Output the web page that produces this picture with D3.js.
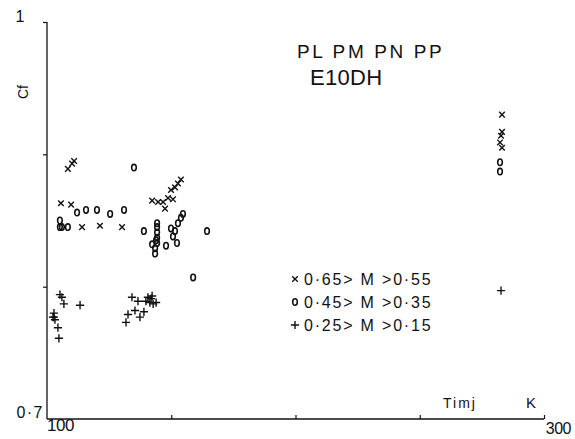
<!DOCTYPE html>
<html>
<head>
<meta charset="utf-8">
<script src="https://cdn.jsdelivr.net/npm/d3@7"></script>
<style>
  html, body { margin: 0; padding: 0; background: #fff; }
  svg { display: block; }
  text { font-family: "Liberation Sans", "DejaVu Sans", sans-serif; fill: #111; }
</style>
</head>
<body>
<svg id="chart" width="575" height="439"></svg>
<script>
// Injection temperature (K) vs. Cf, grouped by Mach number band
const xTicks = [150, 200, 250, 300];
const yTicks = [0.9, 0.8];

// 0.65 > M > 0.55
const highM = [
  [108.4, 0.889], [110.1, 0.893], [110.9, 0.895],
  [105.6, 0.863], [109.7, 0.862],
  [114.1, 0.845], [121.3, 0.846], [130.2, 0.845],
  [142.3, 0.865], [144.7, 0.864], [146.7, 0.864], [147.5, 0.859],
  [148.7, 0.867], [149.9, 0.873], [150.7, 0.866], [151.5, 0.875],
  [152.7, 0.878], [153.9, 0.881],
  [283.1, 0.930], [283.1, 0.917], [282.7, 0.914], [282.3, 0.909], [283.1, 0.905]
];

// 0.45 > M > 0.35
const midM = [
  [135.0, 0.890],
  [112.1, 0.856], [115.7, 0.858], [120.1, 0.858], [125.4, 0.855], [131.0, 0.858],
  [105.2, 0.850], [105.2, 0.845], [106.0, 0.845], [108.4, 0.845],
  [139.0, 0.842],
  [144.3, 0.848], [144.3, 0.845], [144.3, 0.841], [144.3, 0.837], [144.3, 0.833],
  [142.3, 0.832], [143.5, 0.829], [143.9, 0.835], [143.5, 0.825],
  [147.9, 0.831], [152.3, 0.833],
  [149.9, 0.844], [150.7, 0.838], [151.5, 0.842], [152.7, 0.848], [153.9, 0.852], [154.7, 0.855],
  [164.4, 0.842], [158.8, 0.807],
  [282.3, 0.894], [282.3, 0.887]
];

// 0.25 > M > 0.15
const lowM = [
  [105.2, 0.794], [106.0, 0.792], [106.8, 0.787], [113.3, 0.786],
  [102.8, 0.780], [102.8, 0.777], [103.2, 0.775], [102.4, 0.777],
  [104.4, 0.769], [104.8, 0.761],
  [134.2, 0.792], [136.6, 0.789], [139.8, 0.789], [140.6, 0.792], [142.3, 0.793],
  [141.9, 0.791], [141.4, 0.788], [142.7, 0.787], [143.9, 0.788],
  [132.6, 0.779], [131.8, 0.773], [135.4, 0.782], [139.0, 0.781], [137.4, 0.777],
  [282.7, 0.797]
];

const legendItems = [
  { marker: "x", label: "0·65> M >0·55" },
  { marker: "o", label: "0·45> M >0·35" },
  { marker: "+", label: "0·25> M >0·15" }
];

const svg = d3.select("#chart");
const x = d3.scaleLinear().domain([100, 300]).range([47, 544]);
const y = d3.scaleLinear().domain([0.7, 1]).range([419, 22]);

const ink = "#111";

// Axes: short tick marks on the plotter frame
const xAxis = d3.axisBottom(x).tickValues(xTicks).tickSize(-4).tickFormat("");
const gx = svg.append("g").attr("transform", `translate(0,${y(0.7)})`).call(xAxis);
gx.select(".domain").attr("d", `M${x(100)},0H${x(300)}`).attr("stroke", ink).attr("stroke-width", 1.3);
gx.selectAll(".tick line").attr("stroke", ink).attr("stroke-width", 1.2);

const yAxis = d3.axisLeft(y).tickValues(yTicks.concat([1])).tickSize(4).tickFormat("");
const gy = svg.append("g").attr("transform", `translate(${x(100)},0)`).call(yAxis);
gy.select(".domain").attr("d", `M0,${y(1)}V${y(0.7)}`).attr("stroke", ink).attr("stroke-width", 1.3);
gy.selectAll(".tick line").attr("stroke", ink).attr("stroke-width", 1.2);

// Axis end labels
svg.append("text").attr("x", 20).attr("y", 22).attr("font-size", 16)
  .attr("text-anchor", "middle").text("1");
svg.append("text").attr("x", 44).attr("y", 418).attr("font-size", 16)
  .attr("letter-spacing", 1.5).attr("text-anchor", "end").text("0·7");
svg.append("text").attr("x", x(100)).attr("y", 431).attr("font-size", 17)
  .attr("letter-spacing", -0.5).text("100");
svg.append("text").attr("x", 571).attr("y", 434).attr("font-size", 16)
  .attr("letter-spacing", -0.5).attr("text-anchor", "end").text("300");
svg.append("text").attr("transform", "translate(28,92) rotate(-90)")
  .attr("font-size", 14).attr("text-anchor", "middle").text("Cf");
svg.append("text").attr("x", 443).attr("y", 408).attr("font-size", 14)
  .attr("letter-spacing", 2).text("Timj");
svg.append("text").attr("x", 526).attr("y", 408).attr("font-size", 15).text("K");

// Title
svg.append("text").attr("x", 297).attr("y", 58).attr("font-size", 19)
  .attr("letter-spacing", 2.6).text("PL PM PN PP");
svg.append("text").attr("x", 310).attr("y", 85).attr("font-size", 22)
  .attr("letter-spacing", 0.3).text("E10DH");

// Marker shapes
function drawMarker(g, type) {
  const s = g.append("path").attr("fill", "none").attr("stroke", ink)
    .attr("stroke-width", 1.4).attr("stroke-linecap", "square");
  if (type === "x") s.attr("d", "M-2.3,-2.3L2.3,2.3M-2.3,2.3L2.3,-2.3");
  else if (type === "+") s.attr("d", "M-3.4,0H3.4M0,-3.4V3.4");
  else s.attr("d", "M0,-3.2C1.6,-3.2 2.3,-2 2.3,0C2.3,2 1.6,3.2 0,3.2C-1.6,3.2 -2.3,2 -2.3,0C-2.3,-2 -1.6,-3.2 0,-3.2Z")
    .attr("stroke-width", 1.6);
}

function plotSeries(data, type) {
  svg.append("g").selectAll("g").data(data).join("g")
    .attr("transform", d => `translate(${x(d[0])},${y(d[1])})`)
    .each(function () { drawMarker(d3.select(this), type); });
}
plotSeries(highM, "x");
plotSeries(midM, "o");
plotSeries(lowM, "+");

// Legend
const legend = svg.append("g");
legendItems.forEach((item, i) => {
  const cy = 279 + i * 23;
  const m = legend.append("g").attr("transform", `translate(295,${cy})`);
  drawMarker(m, item.marker);
  legend.append("text").attr("x", 304).attr("y", cy + 6).attr("font-size", 16)
    .attr("letter-spacing", 1.8).text(item.label);
});
</script>
</body>
</html>
